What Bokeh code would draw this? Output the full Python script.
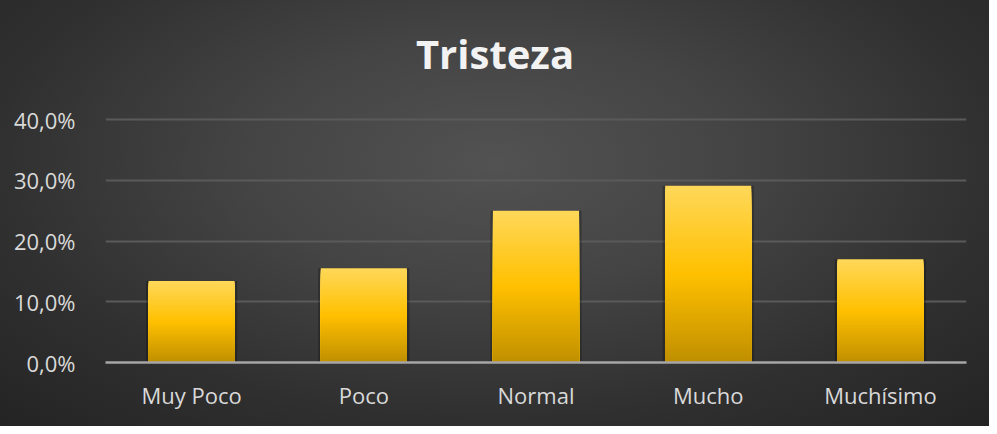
from bokeh.plotting import figure
from bokeh.models import FactorRange, Range1d, ColumnDataSource, FixedTicker, Label
from bokeh.embed import file_html
from bokeh.resources import INLINE

# ---- data ----
categories = ["Muy Poco", "Poco", "Normal", "Mucho", "Muchísimo"]
values = [13.4, 15.5, 25.0, 29.1, 17.0]  # percent
y_ticks = [0, 10, 20, 30, 40]
y_tick_labels = ["0,0%", "10,0%", "20,0%", "30,0%", "40,0%"]
title_text = "Tristeza"

# gradient stops for the bars (top -> middle -> bottom)
grad_top = (255, 216, 90)
grad_mid = (255, 192, 0)
grad_bot = (191, 143, 0)
N_SLICES = 60


def lerp(a, b, t):
    return tuple(int(round(a[i] + (b[i] - a[i]) * t)) for i in range(3))


def grad_color(frac_from_top):
    if frac_from_top <= 0.5:
        c = lerp(grad_top, grad_mid, frac_from_top / 0.5)
    else:
        c = lerp(grad_mid, grad_bot, (frac_from_top - 0.5) / 0.5)
    return "#%02x%02x%02x" % c


# each slice spans from 0 up to its own top; drawn tallest first so no seams show
xs, tops, colors = [], [], []
for cat, v in zip(categories, values):
    for i in range(N_SLICES - 1, -1, -1):
        t = v * (i + 1) / N_SLICES
        frac_top = 1 - (i + 0.5) / N_SLICES
        xs.append(cat)
        tops.append(t)
        colors.append(grad_color(frac_top))

slices = ColumnDataSource(dict(x=xs, top=tops, color=colors))
bars = ColumnDataSource(dict(x=categories, top=values))

# ---- layout geometry (pixels) ----
W, H = 989, 426
BORDER_BOTTOM = 64
FRAME_H = H - BORDER_BOTTOM          # frame reaches the top of the figure
AXIS_MAX_PX = 243                    # pixel height of the 0..40 % span
y_max = y_ticks[-1]
y_end = y_max * FRAME_H / AXIS_MAX_PX
title_y = y_max * (FRAME_H - 53) / AXIS_MAX_PX

p = figure(
    x_range=FactorRange(*categories, range_padding=0),
    y_range=Range1d(0, y_end),
    width=W, height=H,
    output_backend="svg", toolbar_location=None,
    min_border_left=105, min_border_right=23,
    min_border_top=0, min_border_bottom=BORDER_BOTTOM,
)

p.styles = {"background": "radial-gradient(ellipse 72% 85% at 50% 38%, #525252 0%, #444444 35%, #303030 70%, #242424 100%)"}
p.border_fill_alpha = 0
p.background_fill_alpha = 0
p.outline_line_color = None

# subtle shadow behind bars
p.vbar(x="x", top="top", bottom=0, width=0.53, source=bars,
       fill_color="black", fill_alpha=0.25, line_color=None)
p.vbar(x="x", top="top", bottom=0, width=0.5, source=slices,
       fill_color="color", line_color=None)

# title, centred over the whole chart
title = Label(
    x=len(categories) / 2, y=title_y, x_offset=-41,
    text=title_text, text_align="center", text_baseline="alphabetic",
    text_font="Open Sans", text_font_style="bold", text_font_size="40px",
    text_color="#f2f2f2",
)
p.add_layout(title)

# y axis
p.yaxis.ticker = FixedTicker(ticks=y_ticks)
p.yaxis.major_label_overrides = {t: l for t, l in zip(y_ticks, y_tick_labels)}
p.yaxis.axis_line_color = None
p.yaxis.major_tick_line_color = None
p.yaxis.minor_tick_line_color = None
p.yaxis.major_label_standoff = 24
p.yaxis.major_label_text_font = "Open Sans"
p.yaxis.major_label_text_font_size = "22px"
p.yaxis.major_label_text_color = "#d9d9d9"

# x axis
p.xaxis.axis_line_color = "#a6a6a6"
p.xaxis.axis_line_width = 2.5
p.xaxis.major_tick_line_color = None
p.xaxis.minor_tick_line_color = None
p.xaxis.major_label_standoff = 11
p.xaxis.major_label_text_font = "Open Sans"
p.xaxis.major_label_text_font_size = "22px"
p.xaxis.major_label_text_color = "#d9d9d9"

# grid
p.xgrid.grid_line_color = None
p.ygrid.grid_line_color = "#5a5a5a"
p.ygrid.grid_line_width = 2

open("out.html", "w").write(file_html(p, INLINE))
